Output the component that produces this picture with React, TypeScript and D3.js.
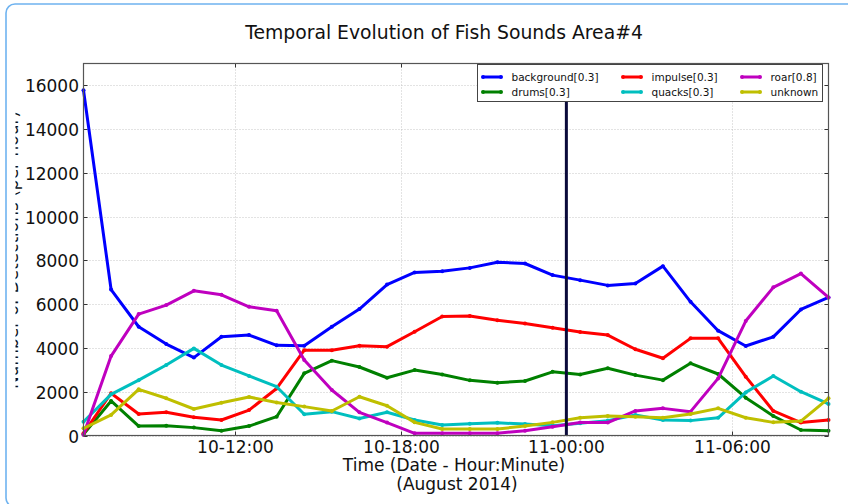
import { useEffect, useRef } from 'react';
import * as d3 from 'd3';

const WIDTH = 848;
const HEIGHT = 504;

// hourly sampling times (UTC), 10 Aug 06:30 -> 11 Aug 09:30
const TIMES = [
  '2014-08-10 06:30', '2014-08-10 07:30', '2014-08-10 08:30', '2014-08-10 09:30',
  '2014-08-10 10:30', '2014-08-10 11:30', '2014-08-10 12:30', '2014-08-10 13:30',
  '2014-08-10 14:30', '2014-08-10 15:30', '2014-08-10 16:30', '2014-08-10 17:30',
  '2014-08-10 18:30', '2014-08-10 19:30', '2014-08-10 20:30', '2014-08-10 21:30',
  '2014-08-10 22:30', '2014-08-10 23:30', '2014-08-11 00:30', '2014-08-11 01:30',
  '2014-08-11 02:30', '2014-08-11 03:30', '2014-08-11 04:30', '2014-08-11 05:30',
  '2014-08-11 06:30', '2014-08-11 07:30', '2014-08-11 08:30', '2014-08-11 09:30',
];

const background = [15780, 6670, 4970, 4180, 3560, 4510, 4590, 4120, 4100, 4970, 5780, 6900, 7450, 7510, 7660, 7920, 7860, 7330, 7100, 6860, 6950, 7740, 6110, 4790, 4090, 4510, 5760, 6310];
const drums = [50, 1580, 430, 450, 360, 220, 430, 860, 2840, 3420, 3130, 2640, 2990, 2790, 2520, 2410, 2490, 2910, 2790, 3070, 2760, 2530, 3300, 2810, 1730, 890, 250, 220];
const impulse = [100, 1930, 980, 1060, 830, 710, 1160, 2150, 3900, 3900, 4100, 4060, 4740, 5440, 5460, 5270, 5120, 4920, 4730, 4590, 3940, 3530, 4440, 4440, 2690, 1120, 590, 710];
const quacks = [630, 1880, 2530, 3220, 3980, 3220, 2720, 2230, 970, 1090, 780, 1060, 710, 480, 540, 580, 520, 450, 560, 680, 940, 710, 680, 810, 1970, 2720, 2000, 1440];
const roar = [30, 3630, 5550, 5960, 6610, 6430, 5880, 5700, 3450, 2080, 1060, 590, 100, 100, 100, 100, 220, 400, 590, 590, 1120, 1240, 1090, 2610, 5230, 6770, 7400, 6310];
const unknown = [330, 940, 2110, 1700, 1210, 1500, 1760, 1510, 1320, 1120, 1770, 1360, 600, 300, 300, 300, 430, 600, 810, 890, 860, 810, 980, 1240, 810, 600, 660, 1700];

// legend order is column-major (matplotlib ncol=3)
const SERIES = [
  { name: 'background[0.3]', values: background, color: '#0000ff' },
  { name: 'drums[0.3]', values: drums, color: '#008000' },
  { name: 'impulse[0.3]', values: impulse, color: '#ff0000' },
  { name: 'quacks[0.3]', values: quacks, color: '#00bfbf' },
  { name: 'roar[0.8]', values: roar, color: '#bf00bf' },
  { name: 'unknown', values: unknown, color: '#bfbf00' },
];

const Y_TICKS = [0, 2000, 4000, 6000, 8000, 10000, 12000, 14000, 16000];
const X_TICKS = ['2014-08-10 12:00', '2014-08-10 18:00', '2014-08-11 00:00', '2014-08-11 06:00'];
const MARKER_TIME = '2014-08-11 00:00';

const FONT = '"DejaVu Sans", sans-serif';

export default function App() {
  const svgRef = useRef<SVGSVGElement>(null);

  useEffect(() => {
    if (!svgRef.current) return;
    const svg = d3.select(svgRef.current);
    svg.selectAll('*').remove();

    const parse = d3.utcParse('%Y-%m-%d %H:%M');
    const times = TIMES.map((t) => parse(t) as Date);

    const left = 83.5;
    const right = 828.5;
    const top = 63.5;
    const bottom = 435.5;

    const x = d3
      .scaleUtc()
      .domain([times[0], times[times.length - 1]])
      .range([left, right]);
    const y = d3.scaleLinear().domain([0, 17000]).range([bottom, top]);

    // outer frame
    svg
      .append('rect')
      .attr('x', 6)
      .attr('y', 4)
      .attr('width', 900)
      .attr('height', 503)
      .attr('rx', 9)
      .attr('fill', 'white')
      .attr('stroke', '#6fb3f0')
      .attr('stroke-width', 1.6);

    // title
    svg
      .append('text')
      .attr('x', 444)
      .attr('y', 39)
      .attr('text-anchor', 'middle')
      .attr('font-family', FONT)
      .attr('font-size', '18.8px')
      .attr('fill', '#111')
      .text('Temporal Evolution of Fish Sounds Area#4');

    // grid
    const grid = svg.append('g').attr('stroke', '#b8b8b8').attr('stroke-width', 0.8).attr('stroke-dasharray', '1,2');
    Y_TICKS.forEach((v) => {
      grid.append('line').attr('x1', left).attr('x2', right).attr('y1', Math.round(y(v)) + 0.5).attr('y2', Math.round(y(v)) + 0.5);
    });
    X_TICKS.forEach((t) => {
      const xv = Math.round(x(parse(t) as Date)) + 0.5;
      grid.append('line').attr('x1', xv).attr('x2', xv).attr('y1', top).attr('y2', bottom);
    });

    // y tick labels + inward ticks
    const yAxis = svg.append('g').attr('font-family', FONT).attr('font-size', '17px');
    Y_TICKS.forEach((v) => {
      const yv = Math.round(y(v)) + 0.5;
      yAxis.append('text').attr('x', 79).attr('y', yv + 6).attr('text-anchor', 'end').attr('fill', '#111').text(v);
      yAxis.append('line').attr('x1', left).attr('x2', left + 4).attr('y1', yv).attr('y2', yv).attr('stroke', '#333');
      yAxis.append('line').attr('x1', right - 4).attr('x2', right).attr('y1', yv).attr('y2', yv).attr('stroke', '#333');
    });

    // x tick labels
    const fmt = d3.utcFormat('%d-%H:%M');
    const xAxis = svg.append('g').attr('font-family', FONT).attr('font-size', '17px');
    X_TICKS.forEach((t) => {
      const d = parse(t) as Date;
      const xv = Math.round(x(d)) + 0.5;
      xAxis.append('text').attr('x', xv).attr('y', 453).attr('text-anchor', 'middle').attr('fill', '#111').text(fmt(d));
      xAxis.append('line').attr('x1', xv).attr('x2', xv).attr('y1', bottom - 4).attr('y2', bottom).attr('stroke', '#333');
      xAxis.append('line').attr('x1', xv).attr('x2', xv).attr('y1', top).attr('y2', top + 4).attr('stroke', '#333');
    });

    // x label (two lines)
    const xl = svg.append('text').attr('font-family', FONT).attr('font-size', '17px').attr('fill', '#111').attr('text-anchor', 'middle');
    xl.append('tspan').attr('x', 454).attr('y', 471).text('Time (Date - Hour:Minute)');
    xl.append('tspan').attr('x', 457).attr('y', 490).text('(August 2014)');

    // y label, mostly cut off at the left in the original
    svg
      .append('clipPath')
      .attr('id', 'ylab-clip')
      .append('rect')
      .attr('x', 15.5)
      .attr('y', 0)
      .attr('width', 40)
      .attr('height', HEIGHT);
    svg
      .append('g')
      .attr('clip-path', 'url(#ylab-clip)')
      .append('text')
      .attr('transform', 'translate(18.3,250) rotate(-90)')
      .attr('text-anchor', 'middle')
      .attr('font-family', FONT)
      .attr('font-size', '17px')
      .attr('fill', '#111')
      .text('Number of Detections (per hour)');

    // series lines
    const line = d3
      .line<number>()
      .x((_, i) => x(times[i]))
      .y((d) => y(d));

    const plot = svg.append('g');
    SERIES.forEach((s) => {
      plot
        .append('path')
        .attr('d', line(s.values))
        .attr('fill', 'none')
        .attr('stroke', s.color)
        .attr('stroke-width', 3)
        .attr('stroke-linejoin', 'round');
      plot
        .selectAll(null)
        .data(s.values)
        .join('circle')
        .attr('cx', (_, i) => x(times[i]))
        .attr('cy', (d) => y(d))
        .attr('r', 2)
        .attr('fill', s.color);
    });

    // vertical marker at 11-00:00
    const mx = x(parse(MARKER_TIME) as Date);
    svg
      .append('line')
      .attr('x1', mx)
      .attr('x2', mx)
      .attr('y1', top)
      .attr('y2', bottom)
      .attr('stroke', '#0a0a3a')
      .attr('stroke-width', 3);

    // axes frame
    svg
      .append('rect')
      .attr('x', left)
      .attr('y', top)
      .attr('width', right - left)
      .attr('height', bottom - top)
      .attr('fill', 'none')
      .attr('stroke', '#555')
      .attr('stroke-width', 1.2);

    // legend
    const lg = svg.append('g').attr('font-family', FONT).attr('font-size', '10.5px');
    lg.append('rect')
      .attr('x', 477.5)
      .attr('y', 64.5)
      .attr('width', 345)
      .attr('height', 37)
      .attr('fill', 'white')
      .attr('stroke', '#444')
      .attr('stroke-width', 1);
    const colX = [483, 623, 742];
    const rowY = [77, 92];
    SERIES.forEach((s, i) => {
      const cx = colX[Math.floor(i / 2)];
      const cy = rowY[i % 2];
      lg.append('line')
        .attr('x1', cx)
        .attr('x2', cx + 18)
        .attr('y1', cy)
        .attr('y2', cy)
        .attr('stroke', s.color)
        .attr('stroke-width', 3);
      [cx, cx + 18].forEach((px) => {
        lg.append('circle').attr('cx', px).attr('cy', cy).attr('r', 2).attr('fill', s.color);
      });
      lg.append('text')
        .attr('x', cx + 28.5)
        .attr('y', cy + 4)
        .attr('fill', '#111')
        .text(s.name);
    });
  }, []);

  return (
    <svg
      ref={svgRef}
      width={WIDTH}
      height={HEIGHT}
      style={{ position: 'absolute', left: 0, top: 0, background: 'white' }}
    />
  );
}
